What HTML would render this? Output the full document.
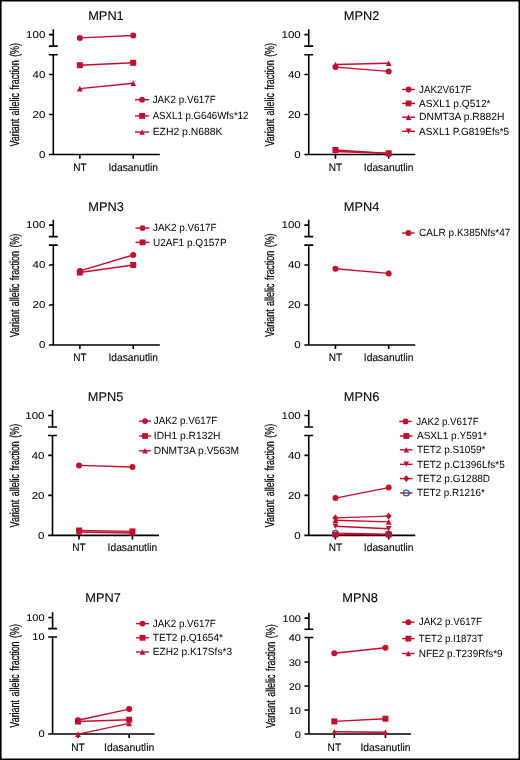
<!DOCTYPE html>
<html><head><meta charset="utf-8"><style>
html,body{margin:0;padding:0;background:#fff;}
svg{display:block;will-change:transform;}
text{font-family:"Liberation Sans",sans-serif;fill:#000;stroke:#000;stroke-width:0.2px;text-rendering:geometricPrecision;}
.yl{stroke-width:0.22px;}
.lg{stroke-width:0;}
.ti{stroke-width:0.08px;}
.tk{stroke-width:0.05px;}
.xl{stroke-width:0.1px;}
</style></head><body>
<svg width="520" height="760" viewBox="0 0 520 760">
<rect x="0" y="0" width="520" height="760" fill="#fff"/>
<text x="88.20" y="20.10" font-size="12.8" class="ti">MPN1</text>
<text transform="translate(18.95,94.75) rotate(-90) scale(0.6875,1)" font-size="13.0" text-anchor="middle" class="yl" word-spacing="1.4">Variant allelic fraction (%)</text>
<path d="M53.30 29.20V46.17M48.85 46.17H57.75M48.95 34.67H53.30M48.85 54.70H57.75M53.30 54.70V154.55M48.95 74.55H53.30M48.95 114.55H53.30M48.95 154.55H53.30M52.50 154.55H159.80M79.85 154.55V158.65M133.22 154.55V158.65" stroke="#000" stroke-width="1.6" fill="none"/>
<text transform="translate(45.30,37.87) scale(1.150,1.000)" font-size="10" text-anchor="end" class="tk">100</text>
<text transform="translate(45.30,77.75) scale(1.150,1.000)" font-size="10" text-anchor="end" class="tk">40</text>
<text transform="translate(45.30,117.75) scale(1.150,1.000)" font-size="10" text-anchor="end" class="tk">20</text>
<text transform="translate(45.30,157.75) scale(1.150,1.000)" font-size="10" text-anchor="end" class="tk">0</text>
<text transform="translate(79.85,170.55) scale(0.930,1)" font-size="10.8" text-anchor="middle" class="xl">NT</text>
<text transform="translate(133.22,170.55) scale(0.950,1)" font-size="10.8" text-anchor="middle" class="xl">Idasanutlin</text>
<path d="M79.85 37.90L133.22 35.50" stroke="#c60c2c" stroke-width="1.45" fill="none"/>
<path d="M79.85 65.20L133.22 62.80" stroke="#c60c2c" stroke-width="1.45" fill="none"/>
<path d="M79.85 88.60L133.22 83.20" stroke="#c60c2c" stroke-width="1.45" fill="none"/>
<circle cx="79.85" cy="37.90" r="3.00" fill="#c60c2c"/>
<circle cx="133.22" cy="35.50" r="3.00" fill="#c60c2c"/>
<rect x="76.85" y="62.20" width="6.00" height="6.00" fill="#c60c2c"/>
<rect x="130.22" y="59.80" width="6.00" height="6.00" fill="#c60c2c"/>
<path d="M79.85 85.80L82.75 91.40L76.95 91.40Z" fill="#c60c2c"/>
<path d="M133.22 80.40L136.12 86.00L130.32 86.00Z" fill="#c60c2c"/>
<path d="M135.00 99.66H149.10" stroke="#c60c2c" stroke-width="1.4"/>
<circle cx="142.05" cy="99.66" r="2.91" fill="#c60c2c"/>
<text transform="translate(152.65,102.91) scale(0.9410,1)" font-size="10.4" class="lg">JAK2 p.V617F</text>
<path d="M135.00 115.90H149.10" stroke="#c60c2c" stroke-width="1.4"/>
<rect x="139.14" y="112.99" width="5.82" height="5.82" fill="#c60c2c"/>
<text transform="translate(152.65,119.15) scale(0.9314,1)" font-size="10.4" class="lg">ASXL1 p.G646Wfs*12</text>
<path d="M135.00 132.10H149.10" stroke="#c60c2c" stroke-width="1.4"/>
<path d="M142.05 129.38L144.86 134.82L139.24 134.82Z" fill="#c60c2c"/>
<text transform="translate(152.65,135.35) scale(1.0000,1)" font-size="10.4" class="lg">EZH2 p.N688K</text>
<text x="343.75" y="20.10" font-size="12.8" class="ti">MPN2</text>
<text transform="translate(274.40,94.75) rotate(-90) scale(0.6875,1)" font-size="13.0" text-anchor="middle" class="yl" word-spacing="1.4">Variant allelic fraction (%)</text>
<path d="M308.75 29.20V46.17M304.30 46.17H313.20M304.40 34.67H308.75M304.30 54.70H313.20M308.75 54.70V154.55M304.40 74.55H308.75M304.40 114.55H308.75M304.40 154.55H308.75M307.95 154.55H415.25M335.45 154.55V158.65M388.67 154.55V158.65" stroke="#000" stroke-width="1.6" fill="none"/>
<text transform="translate(300.75,37.87) scale(1.150,1.000)" font-size="10" text-anchor="end" class="tk">100</text>
<text transform="translate(300.75,77.75) scale(1.150,1.000)" font-size="10" text-anchor="end" class="tk">40</text>
<text transform="translate(300.75,117.75) scale(1.150,1.000)" font-size="10" text-anchor="end" class="tk">20</text>
<text transform="translate(300.75,157.75) scale(1.150,1.000)" font-size="10" text-anchor="end" class="tk">0</text>
<text transform="translate(335.45,170.55) scale(0.930,1)" font-size="10.8" text-anchor="middle" class="xl">NT</text>
<text transform="translate(388.67,170.55) scale(0.950,1)" font-size="10.8" text-anchor="middle" class="xl">Idasanutlin</text>
<path d="M335.45 67.10L388.67 71.40" stroke="#c60c2c" stroke-width="1.45" fill="none"/>
<path d="M335.45 64.50L388.67 63.30" stroke="#c60c2c" stroke-width="1.45" fill="none"/>
<path d="M335.45 150.00L388.67 153.50" stroke="#c60c2c" stroke-width="1.45" fill="none"/>
<path d="M335.45 151.50L388.67 153.30" stroke="#c60c2c" stroke-width="1.45" fill="none"/>
<circle cx="335.45" cy="67.10" r="3.00" fill="#c60c2c"/>
<circle cx="388.67" cy="71.40" r="3.00" fill="#c60c2c"/>
<path d="M335.45 61.70L338.35 67.30L332.55 67.30Z" fill="#c60c2c"/>
<path d="M388.67 60.50L391.57 66.10L385.77 66.10Z" fill="#c60c2c"/>
<rect x="332.45" y="147.00" width="6.00" height="6.00" fill="#c60c2c"/>
<rect x="385.67" y="150.50" width="6.00" height="6.00" fill="#c60c2c"/>
<path d="M335.45 154.30L338.35 148.70L332.55 148.70Z" fill="#c60c2c"/>
<path d="M388.67 156.10L391.57 150.50L385.77 150.50Z" fill="#c60c2c"/>
<path d="M402.10 89.50H415.00" stroke="#c60c2c" stroke-width="1.4"/>
<circle cx="408.55" cy="89.50" r="2.91" fill="#c60c2c"/>
<text transform="translate(419.00,92.75) scale(0.9470,1)" font-size="10.4" class="lg">JAK2V617F</text>
<path d="M402.10 103.40H415.00" stroke="#c60c2c" stroke-width="1.4"/>
<rect x="405.64" y="100.49" width="5.82" height="5.82" fill="#c60c2c"/>
<text transform="translate(419.00,106.65) scale(0.9739,1)" font-size="10.4" class="lg">ASXL1 p.Q512*</text>
<path d="M402.10 117.20H415.00" stroke="#c60c2c" stroke-width="1.4"/>
<path d="M408.55 114.48L411.36 119.92L405.74 119.92Z" fill="#c60c2c"/>
<text transform="translate(419.00,120.45) scale(0.9929,1)" font-size="10.4" class="lg">DNMT3A p.R882H</text>
<path d="M402.10 131.30H415.00" stroke="#c60c2c" stroke-width="1.4"/>
<path d="M408.55 134.02L411.36 128.58L405.74 128.58Z" fill="#c60c2c"/>
<text transform="translate(419.00,134.55) scale(0.9584,1)" font-size="10.4" class="lg">ASXL1 P.G819Efs*5</text>
<text x="88.35" y="211.10" font-size="12.8" class="ti">MPN3</text>
<text transform="translate(18.95,285.45) rotate(-90) scale(0.6875,1)" font-size="13.0" text-anchor="middle" class="yl" word-spacing="1.4">Variant allelic fraction (%)</text>
<path d="M53.30 219.65V236.62M48.85 236.62H57.75M48.95 225.12H53.30M48.85 245.15H57.75M53.30 245.15V345.00M48.95 265.00H53.30M48.95 305.00H53.30M48.95 345.00H53.30M52.50 345.00H159.80M79.85 345.00V349.10M133.22 345.00V349.10" stroke="#000" stroke-width="1.6" fill="none"/>
<text transform="translate(45.30,228.32) scale(1.150,1.000)" font-size="10" text-anchor="end" class="tk">100</text>
<text transform="translate(45.30,268.20) scale(1.150,1.000)" font-size="10" text-anchor="end" class="tk">40</text>
<text transform="translate(45.30,308.20) scale(1.150,1.000)" font-size="10" text-anchor="end" class="tk">20</text>
<text transform="translate(45.30,348.20) scale(1.150,1.000)" font-size="10" text-anchor="end" class="tk">0</text>
<text transform="translate(79.85,361.00) scale(0.930,1)" font-size="10.8" text-anchor="middle" class="xl">NT</text>
<text transform="translate(133.22,361.00) scale(0.950,1)" font-size="10.8" text-anchor="middle" class="xl">Idasanutlin</text>
<path d="M79.85 270.90L133.22 255.00" stroke="#c60c2c" stroke-width="1.45" fill="none"/>
<path d="M79.85 272.50L133.22 265.00" stroke="#c60c2c" stroke-width="1.45" fill="none"/>
<circle cx="79.85" cy="270.90" r="3.00" fill="#c60c2c"/>
<circle cx="133.22" cy="255.00" r="3.00" fill="#c60c2c"/>
<rect x="76.85" y="269.50" width="6.00" height="6.00" fill="#c60c2c"/>
<rect x="130.22" y="262.00" width="6.00" height="6.00" fill="#c60c2c"/>
<path d="M135.50 228.10H149.55" stroke="#c60c2c" stroke-width="1.4"/>
<circle cx="142.53" cy="228.10" r="2.91" fill="#c60c2c"/>
<text transform="translate(152.95,231.35) scale(0.9498,1)" font-size="10.4" class="lg">JAK2 p.V617F</text>
<path d="M135.50 242.40H149.55" stroke="#c60c2c" stroke-width="1.4"/>
<rect x="139.62" y="239.49" width="5.82" height="5.82" fill="#c60c2c"/>
<text transform="translate(152.95,245.65) scale(0.9657,1)" font-size="10.4" class="lg">U2AF1 p.Q157P</text>
<text x="343.75" y="211.10" font-size="12.8" class="ti">MPN4</text>
<text transform="translate(274.40,285.20) rotate(-90) scale(0.6875,1)" font-size="13.0" text-anchor="middle" class="yl" word-spacing="1.4">Variant allelic fraction (%)</text>
<path d="M308.75 219.65V236.62M304.30 236.62H313.20M304.40 225.12H308.75M304.30 245.15H313.20M308.75 245.15V345.00M304.40 265.00H308.75M304.40 305.00H308.75M304.40 345.00H308.75M307.95 345.00H415.25M335.45 345.00V349.10M388.67 345.00V349.10" stroke="#000" stroke-width="1.6" fill="none"/>
<text transform="translate(300.75,228.32) scale(1.150,1.000)" font-size="10" text-anchor="end" class="tk">100</text>
<text transform="translate(300.75,268.20) scale(1.150,1.000)" font-size="10" text-anchor="end" class="tk">40</text>
<text transform="translate(300.75,308.20) scale(1.150,1.000)" font-size="10" text-anchor="end" class="tk">20</text>
<text transform="translate(300.75,348.20) scale(1.150,1.000)" font-size="10" text-anchor="end" class="tk">0</text>
<text transform="translate(335.45,361.00) scale(0.930,1)" font-size="10.8" text-anchor="middle" class="xl">NT</text>
<text transform="translate(388.67,361.00) scale(0.950,1)" font-size="10.8" text-anchor="middle" class="xl">Idasanutlin</text>
<path d="M335.45 268.80L388.67 273.40" stroke="#c60c2c" stroke-width="1.45" fill="none"/>
<circle cx="335.45" cy="268.80" r="3.00" fill="#c60c2c"/>
<circle cx="388.67" cy="273.40" r="3.00" fill="#c60c2c"/>
<path d="M402.10 233.00H414.75" stroke="#c60c2c" stroke-width="1.4"/>
<circle cx="408.43" cy="233.00" r="2.91" fill="#c60c2c"/>
<text transform="translate(419.00,236.25) scale(0.9648,1)" font-size="10.4" class="lg">CALR p.K385Nfs*47</text>
<text x="87.75" y="401.10" font-size="12.8" class="ti">MPN5</text>
<text transform="translate(18.95,475.60) rotate(-90) scale(0.6875,1)" font-size="13.0" text-anchor="middle" class="yl" word-spacing="1.4">Variant allelic fraction (%)</text>
<path d="M52.50 410.05V427.02M48.05 427.02H56.95M48.15 415.52H52.50M48.05 435.55H56.95M52.50 435.55V535.40M48.15 455.40H52.50M48.15 495.40H52.50M48.15 535.40H52.50M51.70 535.40H159.00M79.05 535.40V539.50M132.42 535.40V539.50" stroke="#000" stroke-width="1.6" fill="none"/>
<text transform="translate(44.50,418.72) scale(1.150,1.000)" font-size="10" text-anchor="end" class="tk">100</text>
<text transform="translate(44.50,458.60) scale(1.150,1.000)" font-size="10" text-anchor="end" class="tk">40</text>
<text transform="translate(44.50,498.60) scale(1.150,1.000)" font-size="10" text-anchor="end" class="tk">20</text>
<text transform="translate(44.50,538.60) scale(1.150,1.000)" font-size="10" text-anchor="end" class="tk">0</text>
<text transform="translate(79.05,551.40) scale(0.930,1)" font-size="10.8" text-anchor="middle" class="xl">NT</text>
<text transform="translate(132.42,551.40) scale(0.950,1)" font-size="10.8" text-anchor="middle" class="xl">Idasanutlin</text>
<path d="M79.05 465.40L132.42 467.00" stroke="#c60c2c" stroke-width="1.45" fill="none"/>
<path d="M79.05 532.00L132.42 533.00" stroke="#c60c2c" stroke-width="1.45" fill="none"/>
<path d="M79.05 530.50L132.42 531.40" stroke="#c60c2c" stroke-width="1.45" fill="none"/>
<circle cx="79.05" cy="465.40" r="3.00" fill="#c60c2c"/>
<circle cx="132.42" cy="467.00" r="3.00" fill="#c60c2c"/>
<path d="M79.05 529.20L81.95 534.80L76.15 534.80Z" fill="#c60c2c"/>
<path d="M132.42 530.20L135.32 535.80L129.52 535.80Z" fill="#c60c2c"/>
<rect x="76.05" y="527.50" width="6.00" height="6.00" fill="#c60c2c"/>
<rect x="129.42" y="528.40" width="6.00" height="6.00" fill="#c60c2c"/>
<path d="M138.95 421.10H151.05" stroke="#c60c2c" stroke-width="1.4"/>
<circle cx="145.00" cy="421.10" r="2.91" fill="#c60c2c"/>
<text transform="translate(153.85,424.35) scale(0.9453,1)" font-size="10.4" class="lg">JAK2 p.V617F</text>
<path d="M138.95 436.00H151.05" stroke="#c60c2c" stroke-width="1.4"/>
<rect x="142.09" y="433.09" width="5.82" height="5.82" fill="#c60c2c"/>
<text transform="translate(153.85,439.25) scale(0.9865,1)" font-size="10.4" class="lg">IDH1 p.R132H</text>
<path d="M138.95 450.80H151.05" stroke="#c60c2c" stroke-width="1.4"/>
<path d="M145.00 448.08L147.81 453.52L142.19 453.52Z" fill="#c60c2c"/>
<text transform="translate(153.85,454.05) scale(0.9831,1)" font-size="10.4" class="lg">DNMT3A p.V563M</text>
<text x="343.75" y="401.10" font-size="12.8" class="ti">MPN6</text>
<text transform="translate(274.40,475.60) rotate(-90) scale(0.6875,1)" font-size="13.0" text-anchor="middle" class="yl" word-spacing="1.4">Variant allelic fraction (%)</text>
<path d="M308.75 410.05V427.02M304.30 427.02H313.20M304.40 415.52H308.75M304.30 435.55H313.20M308.75 435.55V535.40M304.40 455.40H308.75M304.40 495.40H308.75M304.40 535.40H308.75M307.95 535.40H415.25M335.45 535.40V539.50M388.67 535.40V539.50" stroke="#000" stroke-width="1.6" fill="none"/>
<text transform="translate(300.75,418.72) scale(1.150,1.000)" font-size="10" text-anchor="end" class="tk">100</text>
<text transform="translate(300.75,458.60) scale(1.150,1.000)" font-size="10" text-anchor="end" class="tk">40</text>
<text transform="translate(300.75,498.60) scale(1.150,1.000)" font-size="10" text-anchor="end" class="tk">20</text>
<text transform="translate(300.75,538.60) scale(1.150,1.000)" font-size="10" text-anchor="end" class="tk">0</text>
<text transform="translate(335.45,551.40) scale(0.930,1)" font-size="10.8" text-anchor="middle" class="xl">NT</text>
<text transform="translate(388.67,551.40) scale(0.950,1)" font-size="10.8" text-anchor="middle" class="xl">Idasanutlin</text>
<path d="M335.45 498.10L388.67 487.60" stroke="#c60c2c" stroke-width="1.45" fill="none"/>
<path d="M335.45 533.10L388.67 534.10" stroke="#c60c2c" stroke-width="1.45" fill="none"/>
<path d="M335.45 534.60L388.67 534.60" stroke="#c60c2c" stroke-width="1.45" fill="none"/>
<path d="M335.45 526.30L388.67 528.70" stroke="#c60c2c" stroke-width="1.45" fill="none"/>
<path d="M335.45 520.30L388.67 521.90" stroke="#c60c2c" stroke-width="1.45" fill="none"/>
<path d="M335.45 517.90L388.67 516.10" stroke="#c60c2c" stroke-width="1.45" fill="none"/>
<circle cx="335.45" cy="498.10" r="3.00" fill="#c60c2c"/>
<circle cx="388.67" cy="487.60" r="3.00" fill="#c60c2c"/>
<circle cx="335.45" cy="533.10" r="2.75" fill="none" stroke="#1f5b99" stroke-width="1.15"/>
<circle cx="388.67" cy="534.10" r="2.75" fill="none" stroke="#1f5b99" stroke-width="1.15"/>
<rect x="332.45" y="531.60" width="6.00" height="6.00" fill="#c60c2c"/>
<rect x="385.67" y="531.60" width="6.00" height="6.00" fill="#c60c2c"/>
<path d="M335.45 529.10L338.35 523.50L332.55 523.50Z" fill="#c60c2c"/>
<path d="M388.67 531.50L391.57 525.90L385.77 525.90Z" fill="#c60c2c"/>
<path d="M335.45 517.50L338.35 523.10L332.55 523.10Z" fill="#c60c2c"/>
<path d="M388.67 519.10L391.57 524.70L385.77 524.70Z" fill="#c60c2c"/>
<path d="M335.45 514.50L338.55 517.90L335.45 521.30L332.35 517.90Z" fill="#c60c2c"/>
<path d="M388.67 512.70L391.77 516.10L388.67 519.50L385.57 516.10Z" fill="#c60c2c"/>
<path d="M399.20 421.40H411.80" stroke="#c60c2c" stroke-width="1.4"/>
<circle cx="405.50" cy="421.40" r="2.91" fill="#c60c2c"/>
<text transform="translate(416.15,424.65) scale(0.9324,1)" font-size="10.4" class="lg">JAK2 p.V617F</text>
<path d="M400.00 436.00H412.60" stroke="#c60c2c" stroke-width="1.4"/>
<rect x="403.39" y="433.09" width="5.82" height="5.82" fill="#c60c2c"/>
<text transform="translate(416.95,439.25) scale(0.9675,1)" font-size="10.4" class="lg">ASXL1 p.Y591*</text>
<path d="M400.00 449.80H412.60" stroke="#c60c2c" stroke-width="1.4"/>
<path d="M406.30 447.08L409.11 452.52L403.49 452.52Z" fill="#c60c2c"/>
<text transform="translate(416.95,453.05) scale(0.9642,1)" font-size="10.4" class="lg">TET2 p.S1059*</text>
<path d="M400.00 464.30H412.60" stroke="#c60c2c" stroke-width="1.4"/>
<path d="M406.30 467.02L409.11 461.58L403.49 461.58Z" fill="#c60c2c"/>
<text transform="translate(416.95,467.55) scale(0.9614,1)" font-size="10.4" class="lg">TET2 p.C1396Lfs*5</text>
<path d="M400.00 478.60H412.60" stroke="#c60c2c" stroke-width="1.4"/>
<path d="M406.30 475.30L409.31 478.60L406.30 481.90L403.29 478.60Z" fill="#c60c2c"/>
<text transform="translate(416.95,481.85) scale(0.9666,1)" font-size="10.4" class="lg">TET2 p.G1288D</text>
<path d="M400.00 493.00H412.60" stroke="#c60c2c" stroke-width="1.4"/>
<circle cx="406.30" cy="493.00" r="2.95" fill="none" stroke="#1f5b99" stroke-width="1.15"/>
<text transform="translate(416.95,496.25) scale(0.9477,1)" font-size="10.4" class="lg">TET2 p.R1216*</text>
<text x="85.30" y="602.10" font-size="12.8" class="ti">MPN7</text>
<text transform="translate(18.90,675.85) rotate(-90) scale(0.6875,1)" font-size="13.0" text-anchor="middle" class="yl" word-spacing="1.4">Variant allelic fraction (%)</text>
<path d="M52.60 612.17V628.66M48.15 628.66H57.05M48.25 617.49H52.60M48.15 636.95H57.05M52.60 636.95V733.95M48.25 733.95H52.60M51.80 733.95H154.63M78.03 733.95V737.93M129.16 733.95V737.93" stroke="#000" stroke-width="1.6" fill="none"/>
<text transform="translate(44.60,621.00) scale(1.102,0.972)" font-size="10" text-anchor="end" class="tk">100</text>
<text transform="translate(44.60,737.46) scale(1.102,0.972)" font-size="10" text-anchor="end" class="tk">0</text>
<text transform="translate(44.60,640.45) scale(1.102,0.972)" font-size="10" text-anchor="end" class="tk">10</text>
<text transform="translate(78.03,750.55) scale(0.939,1)" font-size="10.8" text-anchor="middle" class="xl">NT</text>
<text transform="translate(129.16,750.55) scale(0.959,1)" font-size="10.8" text-anchor="middle" class="xl">Idasanutlin</text>
<path d="M78.03 720.20L129.16 709.10" stroke="#c60c2c" stroke-width="1.45" fill="none"/>
<path d="M78.03 721.50L129.16 719.70" stroke="#c60c2c" stroke-width="1.45" fill="none"/>
<path d="M78.03 734.15L129.16 723.40" stroke="#c60c2c" stroke-width="1.45" fill="none"/>
<circle cx="78.03" cy="720.20" r="3.00" fill="#c60c2c"/>
<circle cx="129.16" cy="709.10" r="3.00" fill="#c60c2c"/>
<rect x="75.03" y="718.50" width="6.00" height="6.00" fill="#c60c2c"/>
<rect x="126.16" y="716.70" width="6.00" height="6.00" fill="#c60c2c"/>
<path d="M78.03 731.35L80.93 736.95L75.13 736.95Z" fill="#c60c2c"/>
<path d="M129.16 720.60L132.06 726.20L126.26 726.20Z" fill="#c60c2c"/>
<path d="M136.00 623.60H148.90" stroke="#c60c2c" stroke-width="1.4"/>
<circle cx="142.45" cy="623.60" r="2.91" fill="#c60c2c"/>
<text transform="translate(152.80,626.85) scale(0.9408,1)" font-size="10.4" class="lg">JAK2 p.V617F</text>
<path d="M136.00 637.80H148.90" stroke="#c60c2c" stroke-width="1.4"/>
<rect x="139.54" y="634.89" width="5.82" height="5.82" fill="#c60c2c"/>
<text transform="translate(152.80,641.05) scale(0.9718,1)" font-size="10.4" class="lg">TET2 p.Q1654*</text>
<path d="M136.00 652.00H148.90" stroke="#c60c2c" stroke-width="1.4"/>
<path d="M142.45 649.28L145.26 654.72L139.64 654.72Z" fill="#c60c2c"/>
<text transform="translate(152.80,655.25) scale(0.9728,1)" font-size="10.4" class="lg">EZH2 p.K17Sfs*3</text>
<text x="342.35" y="602.00" font-size="12.8" class="ti">MPN8</text>
<text transform="translate(274.55,676.15) rotate(-90) scale(0.6875,1)" font-size="13.0" text-anchor="middle" class="yl" word-spacing="1.4">Variant allelic fraction (%)</text>
<path d="M308.90 612.80V629.20M304.45 629.20H313.35M304.55 618.09H308.90M304.45 637.44H313.35M308.90 637.44V733.95M304.55 661.95H308.90M304.55 686.00H308.90M304.55 709.95H308.90M304.55 733.95H308.90M308.10 733.95H410.93M334.33 733.95V737.91M385.46 733.95V737.91" stroke="#000" stroke-width="1.6" fill="none"/>
<text transform="translate(300.90,621.78) scale(1.102,0.967)" font-size="10" text-anchor="end" class="tk">100</text>
<text transform="translate(300.90,665.64) scale(1.102,0.967)" font-size="10" text-anchor="end" class="tk">30</text>
<text transform="translate(300.90,689.69) scale(1.102,0.967)" font-size="10" text-anchor="end" class="tk">20</text>
<text transform="translate(300.90,713.64) scale(1.102,0.967)" font-size="10" text-anchor="end" class="tk">10</text>
<text transform="translate(300.90,737.64) scale(1.102,0.967)" font-size="10" text-anchor="end" class="tk">0</text>
<text transform="translate(300.90,641.14) scale(1.102,0.967)" font-size="10" text-anchor="end" class="tk">40</text>
<text transform="translate(334.33,750.55) scale(0.939,1)" font-size="10.8" text-anchor="middle" class="xl">NT</text>
<text transform="translate(385.46,750.55) scale(0.959,1)" font-size="10.8" text-anchor="middle" class="xl">Idasanutlin</text>
<path d="M334.33 653.20L385.46 647.70" stroke="#c60c2c" stroke-width="1.45" fill="none"/>
<path d="M334.33 721.40L385.46 718.70" stroke="#c60c2c" stroke-width="1.45" fill="none"/>
<path d="M334.33 731.80L385.46 732.30" stroke="#c60c2c" stroke-width="1.45" fill="none"/>
<circle cx="334.33" cy="653.20" r="3.00" fill="#c60c2c"/>
<circle cx="385.46" cy="647.70" r="3.00" fill="#c60c2c"/>
<rect x="331.33" y="718.40" width="6.00" height="6.00" fill="#c60c2c"/>
<rect x="382.46" y="715.70" width="6.00" height="6.00" fill="#c60c2c"/>
<path d="M334.33 729.00L337.23 734.60L331.43 734.60Z" fill="#c60c2c"/>
<path d="M385.46 729.50L388.36 735.10L382.56 735.10Z" fill="#c60c2c"/>
<path d="M402.10 622.20H414.60" stroke="#c60c2c" stroke-width="1.4"/>
<circle cx="408.35" cy="622.20" r="2.91" fill="#c60c2c"/>
<text transform="translate(418.80,625.45) scale(0.9439,1)" font-size="10.4" class="lg">JAK2 p.V617F</text>
<path d="M402.10 638.60H414.60" stroke="#c60c2c" stroke-width="1.4"/>
<rect x="405.44" y="635.69" width="5.82" height="5.82" fill="#c60c2c"/>
<text transform="translate(418.80,641.85) scale(0.9274,1)" font-size="10.4" class="lg">TET2 p.I1873T</text>
<path d="M402.10 653.50H414.60" stroke="#c60c2c" stroke-width="1.4"/>
<path d="M408.35 650.78L411.16 656.22L405.54 656.22Z" fill="#c60c2c"/>
<text transform="translate(418.80,656.75) scale(0.9609,1)" font-size="10.4" class="lg">NFE2 p.T239Rfs*9</text>
<path d="M0 0H520V760H0ZM1.6 1.6V758.5H518.5V1.6Z" fill="#000" fill-rule="evenodd"/>
</svg>
</body></html>
